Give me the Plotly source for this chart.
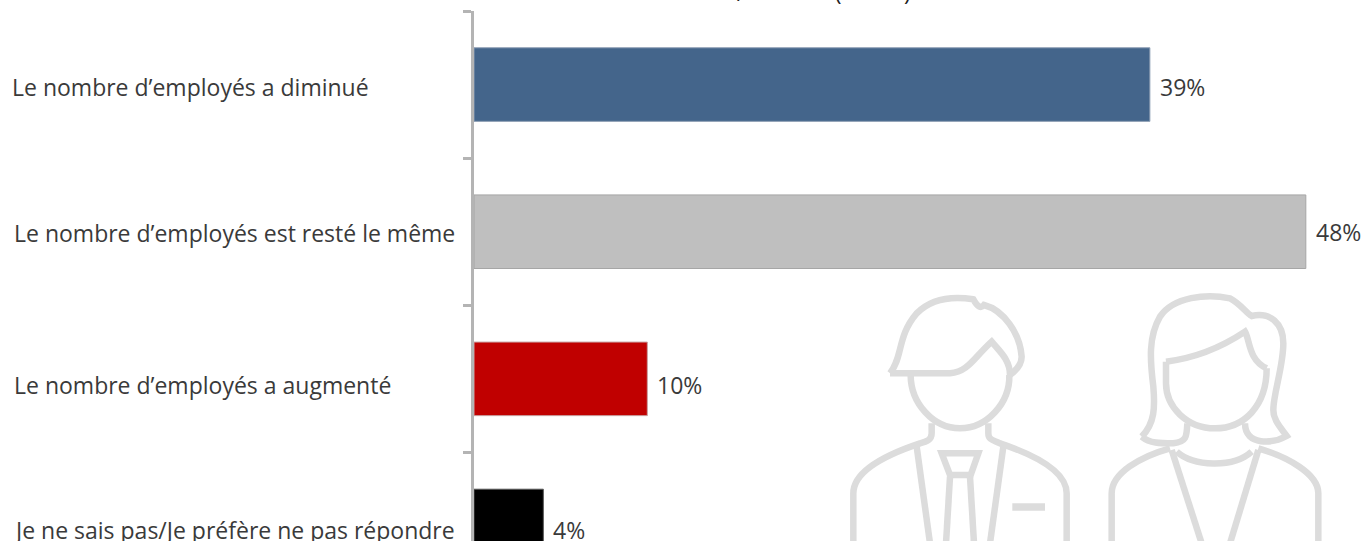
import plotly.graph_objects as go

categories = ["Le nombre d’employés a diminué", "Le nombre d’employés est resté le même",
              "Le nombre d’employés a augmenté", "Je ne sais pas/Je préfère ne pas répondre"]
values = [39, 48, 10, 4]
labels = ["39%", "48%", "10%", "4%"]
colors = ["#44658B", "#BFBFBF", "#C00000", "#000000"]
edge = ["#8C9DB3", "#A6A6A6", "#C9A0A0", "#555555"]

W, H = 1365, 541
PX0 = 474
PX_PER_UNIT = 17.33
FONT = "Open Sans"
FS = 23
TXT = "#3A3A3A"
ICON = "#DCDCDC"

man = [
    "M150,280 L330,280 C385,275 400,235 455,185 C480,215 510,240 510,285",
    "M150,280 C190,230 170,170 230,100 C280,50 350,50 400,58 Q418,92 432,75 C490,90 540,160 545,230 C545,250 530,270 510,285",
    "M212,285 C212,370 280,445 360,445 C440,445 510,370 508,285",
    "M275,430 L275,460 C275,480 260,485 240,490 C150,520 40,570 40,640 L40,790",
    "M445,430 L445,460 C445,480 460,480 480,490 C570,520 680,570 680,640 L680,790",
    "M230,500 L270,790", "M490,500 L450,790",
    "M305,520 L415,520 L392,585 L330,585 Z",
    "M330,590 L318,790", "M390,590 L402,790",
]
woman = [
    "M905,470 C945,430 945,380 940,320 C930,240 925,170 960,110 C1000,50 1100,40 1170,55 C1200,70 1220,100 1235,108 C1290,95 1330,130 1330,190 C1330,260 1300,340 1300,390 C1300,420 1320,440 1340,468 C1300,490 1215,500 1215,430",
    "M905,470 C930,490 960,490 1000,490 C1040,485 1040,470 1042,430",
    "M978,245 C1060,235 1140,205 1215,155 C1230,180 1225,240 1280,265",
    "M978,245 L978,310 C978,380 1040,445 1125,445 C1210,445 1280,380 1280,265",
    "M990,505 C900,530 815,580 815,640 L815,790",
    "M1255,505 C1340,530 1435,580 1435,640 L1435,790",
    "M1010,515 C1060,560 1180,565 1235,515",
    "M995,510 L1085,790", "M1255,510 L1170,790",
]

fig = go.Figure()
fig.add_bar(y=categories, x=values, orientation="h", width=0.5,
            marker=dict(color=colors, line=dict(color=edge, width=1)),
            cliponaxis=False, hoverinfo="skip", xaxis="x", yaxis="y")
fig.add_scatter(x=[], y=[], xaxis="x2", yaxis="y2", showlegend=False, hoverinfo="skip")

shapes = [dict(type="path", path=p, xref="x2", yref="y2", layer="above",
               line=dict(color=ICON, width=6.5), fillcolor="rgba(0,0,0,0)")
          for p in man + woman]
shapes.append(dict(type="rect", x0=517, x1=615, y0=670, y1=692, xref="x2", yref="y2",
                   fillcolor=ICON, line=dict(width=0)))

label_x = [10, 12, 12, 12]
label_y = [87, 233, 385, 530]
anns = [dict(text=c, xref="paper", yref="paper", x=lx / W, y=1 - ly / H, xanchor="left",
             yanchor="middle", showarrow=False, font=dict(family=FONT, size=FS, color=TXT))
        for c, lx, ly in zip(categories, label_x, label_y)]
value_yshift = [-2, 0, -6, -4]
for c, v, t, ys in zip(categories, values, labels, value_yshift):
    anns.append(dict(text=t, xref="x", yref="y", x=v, y=c, xanchor="left", yanchor="middle",
                     xshift=8, yshift=ys, showarrow=False,
                     font=dict(family=FONT, size=FS, color=TXT)))
# Only the bottoms of the title's glyphs show at the top edge of the picture
for t, px in [("/", 741), ("(", 838), (")", 907)]:
    anns.append(dict(text=t, xref="paper", yref="paper", x=px / W, y=1 - 9 / H, xanchor="center",
                     yanchor="bottom", showarrow=False, font=dict(family=FONT, size=22, color="#222222")))

fig.update_layout(
    width=W, height=H, autosize=False, margin=dict(l=0, r=0, t=0, b=0),
    paper_bgcolor="white", plot_bgcolor="rgba(0,0,0,0)", showlegend=False, bargap=0.5,
    shapes=shapes, annotations=anns,
    xaxis=dict(domain=[PX0 / W, 1], range=[0, (W - PX0) / PX_PER_UNIT], visible=False),
    yaxis=dict(domain=[0, 530 / H], type="category", categoryorder="array", categoryarray=categories,
               range=[3.102, -0.5], tickson="boundaries", ticks="outside", ticklen=8, tickwidth=3,
               tickcolor="#B4B4B4", showline=True, linecolor="#B4B4B4", linewidth=3,
               showticklabels=False, showgrid=False, zeroline=False, anchor="x"),
    xaxis2=dict(domain=[0, 1], range=[-2520, 1575], visible=False, anchor="y2"),
    yaxis2=dict(domain=[0, 1], range=[783, -840], visible=False, anchor="x2"),
)
fig.write_html("out.html", config=dict(displayModeBar=False),
               post_script="document.body.style.margin='0';document.body.style.overflow='hidden';")
